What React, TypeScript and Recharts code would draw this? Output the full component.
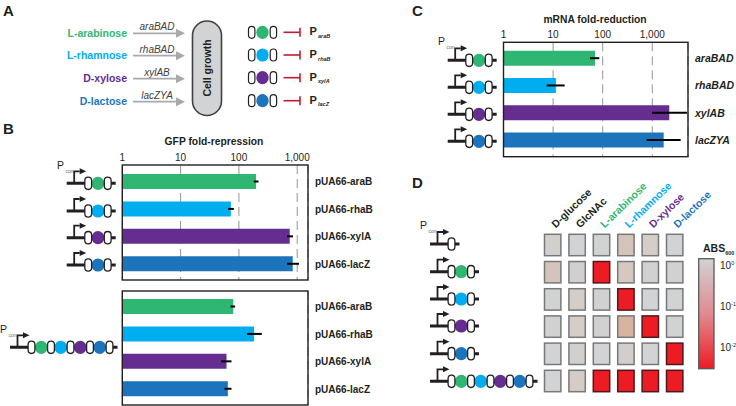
import {
  BarChart,
  Bar,
  Cell,
  ErrorBar,
  XAxis,
  YAxis,
  CartesianGrid,
  ScatterChart,
  Scatter,
} from "recharts";

const GREEN = "#2fb673";
const CYAN = "#00aeef";
const PURPLE = "#662d91";
const BLUE = "#1c75bc";
const INK = "#231f20";
const sugarColors = [GREEN, CYAN, PURPLE, BLUE];

// panel A
const sugarNames = ["L-arabinose", "L-rhamnose", "D-xylose", "D-lactose"];
const operons = ["araBAD", "rhaBAD", "xylAB", "lacZYA"];
const promoterSubs = ["araB", "rhaB", "xylA", "lacZ"];

// panel B
const plasmids = ["pUA66-araB", "pUA66-rhaB", "pUA66-xylA", "pUA66-lacZ"];
const logTicks = [1, 10, 100, 1000];
const gfpSingle = [197, 72.7, 744, 838];
const gfpSingleLow = [180, 65.4, 670, 670];
const gfpSingleHigh = [217, 81.8, 847, 1072];
const gfpMulti = [80, 182, 61.3, 64.6];
const gfpMultiLow = [71.8, 138, 49.6, 56.6];
const gfpMultiHigh = [86, 247, 74.6, 74.6];

// panel C
const mrna = [70, 11.4, 2200, 1698];
const mrnaLow = [55.5, 7.4, 986, 771];
const mrnaHigh = [85.4, 17.1, 5000, 3738];

// panel D
const carbonSources = ["D-glucose", "GlcNAc", ...sugarNames];
const carbonColors = [INK, INK, ...sugarColors];
const abs600 = [
  [0.8, 1.0, 0.95, 0.55, 0.7, 1.0],
  [0.55, 0.85, 0.01, 0.6, 0.9, 0.9],
  [0.95, 0.7, 0.9, 0.01, 1.0, 0.95],
  [0.9, 0.7, 0.9, 0.4, 0.01, 0.95],
  [1.0, 0.8, 1.0, 0.75, 1.0, 0.01],
  [1.0, 0.65, 0.01, 0.01, 0.01, 0.01],
];
const absExponents = ["0", "-1", "-2"];

const rows = (labels: string[], vals: number[], low: number[], high: number[]) =>
  labels.map((name, i) => ({
    name,
    value: vals[i],
    err: [vals[i] - low[i], high[i] - vals[i]],
  }));

const cells = abs600.flatMap((r, row) =>
  r.map((value, col) => ({ row, col, value }))
);

// grey -> tan -> red, same look as the heat cells in the figure
const stops: [number, number[]][] = [
  [0, [209, 211, 212]],
  [0.1, [213, 203, 197]],
  [0.2, [214, 180, 160]],
  [1, [237, 28, 36]],
];
function heatColor(v: number) {
  const t = Math.min(1, -Math.log10(v) / 2);
  for (let i = 1; i < stops.length; i++) {
    if (t <= stops[i][0]) {
      const [t0, a] = stops[i - 1];
      const [t1, b] = stops[i];
      const k = (t - t0) / (t1 - t0);
      const c = a.map((x, j) => Math.round(x + (b[j] - x) * k));
      return `rgb(${c.join(",")})`;
    }
  }
  return "rgb(237,28,36)";
}

function FoldBars({ box, margin, data, max, axisWidth, italic, showTicks, padding }: any) {
  return (
    <div style={{ position: "absolute", ...box }}>
      <BarChart
        width={box.width}
        height={box.height}
        data={data}
        layout="vertical"
        margin={margin}
        barSize={15}
      >
        <CartesianGrid horizontal={false} stroke="#939598" strokeDasharray="9 5" />
        <XAxis
          type="number"
          scale="log"
          orientation="top"
          domain={[1, max]}
          ticks={logTicks}
          interval={0}
          allowDataOverflow
          axisLine={false}
          tickLine={false}
          tickSize={0}
          tickMargin={4}
          height={showTicks ? 20 : 0}
          tick={showTicks ? { fontSize: 10, fill: INK } : false}
          tickFormatter={(v: number) => v.toLocaleString("en-US")}
        />
        <YAxis
          type="category"
          dataKey="name"
          orientation="right"
          width={axisWidth}
          interval={0}
          axisLine={false}
          tickLine={false}
          tickSize={0}
          tickMargin={7}
          padding={padding}
          tick={{
            fontSize: italic ? 10.5 : 10,
            fontWeight: "bold",
            fontStyle: italic ? "italic" : "normal",
            fill: INK,
          }}
        />
        <Bar dataKey="value" isAnimationActive={false}>
          {data.map((d: any, i: number) => (
            <Cell key={d.name} fill={sugarColors[i]} />
          ))}
          <ErrorBar
            dataKey="err"
            direction="x"
            width={0}
            stroke="#000"
            strokeWidth={2}
            isAnimationActive={false}
          />
        </Bar>
      </BarChart>
    </div>
  );
}

function CarbonTick({ x, y, payload }: any) {
  const i = payload.value;
  return (
    <text
      transform={`translate(${x + 3},${y + 1}) rotate(-44)`}
      fontSize={10.5}
      fontWeight="bold"
      fill={carbonColors[i]}
    >
      {carbonSources[i]}
    </text>
  );
}

function HeatCell({ cx, cy, payload }: any) {
  const red = payload.value < 0.05;
  return (
    <rect
      x={cx - 8.2}
      y={cy - 10.7}
      width={16.4}
      height={21.4}
      fill={heatColor(payload.value)}
      stroke={red ? "#4d1a1c" : "#77787b"}
      strokeWidth={1.5}
    />
  );
}

function Heatmap() {
  return (
    <div style={{ position: "absolute", left: 530, top: 170, width: 206, height: 230 }}>
      <ScatterChart
        width={206}
        height={230}
        margin={{ top: 11.4, right: 49.1, bottom: 5.4, left: 10.5 }}
      >
        <XAxis
          type="number"
          dataKey="col"
          orientation="top"
          domain={[-0.5, 5.5]}
          ticks={[0, 1, 2, 3, 4, 5]}
          interval={0}
          height={50}
          axisLine={false}
          tickLine={false}
          tickSize={0}
          tickMargin={4}
          tick={<CarbonTick />}
        />
        <YAxis type="number" dataKey="row" domain={[-0.5, 5.5]} reversed hide />
        <Scatter data={cells} shape={<HeatCell />} isAnimationActive={false} />
      </ScatterChart>
    </div>
  );
}

function Construct({ x, y, parts }: { x: number; y: number; parts: number[] }) {
  const pitch = 9.75;
  const first = x + 21.5;
  const ovals = parts.length + 1;
  const last = parts.length ? first + parts.length * 2 * pitch : first;
  return (
    <g>
      <line x1={x} x2={last + 8} y1={y} y2={y} stroke={INK} strokeWidth={3} />
      <path d={`M${x + 7.5} ${y} V${y - 12} H${x + 13}`} fill="none" stroke={INK} strokeWidth={1.8} />
      <polygon
        points={`${x + 13},${y - 15} ${x + 19.5},${y - 12} ${x + 13},${y - 9}`}
        fill={INK}
      />
      {parts.map((p, i) => (
        <ellipse
          key={i}
          cx={first + pitch + i * 2 * pitch}
          cy={y}
          rx={6.4}
          ry={6.6}
          fill={sugarColors[p]}
        />
      ))}
      {Array.from({ length: ovals }, (_, i) => (
        <rect
          key={i}
          x={first + i * 2 * pitch - 3.4}
          y={y - 6.2}
          width={6.8}
          height={12.4}
          rx={3.4}
          fill="#fff"
          stroke={INK}
          strokeWidth={1.3}
        />
      ))}
    </g>
  );
}

function Pcon({ x, y }: { x: number; y: number }) {
  return (
    <text x={x} y={y} fontSize={10.5} fill={INK}>
      P
      <tspan dy={4} dx={1.5} fontSize={5} fill="#6d6e71">
        con
      </tspan>
    </text>
  );
}

function SchemeA() {
  const arrowY = [33.3, 55.7, 78.7, 101.7];
  const glyphY = [32.3, 55, 77.7, 100.7];
  return (
    <g>
      {sugarNames.map((s, i) => (
        <g key={s}>
          <text
            x={127}
            y={arrowY[i] + 3.6}
            textAnchor="end"
            fontSize={10.5}
            fontWeight="bold"
            fill={sugarColors[i]}
          >
            {s}
          </text>
          <text
            x={157}
            y={arrowY[i] - 3.2}
            textAnchor="middle"
            fontSize={10}
            fontStyle="italic"
            fill="#414042"
          >
            {operons[i]}
          </text>
          <line x1={133} x2={177} y1={arrowY[i]} y2={arrowY[i]} stroke="#a7a9ac" strokeWidth={1.8} />
          <polygon
            points={`${176},${arrowY[i] - 4.5} ${185},${arrowY[i]} ${176},${arrowY[i] + 4.5}`}
            fill="#a7a9ac"
          />
          <ellipse cx={262.5} cy={glyphY[i]} rx={6.2} ry={6.6} fill={sugarColors[i]} />
          <rect x={248.5} y={glyphY[i] - 6} width={6.4} height={12} rx={3.2} fill="#fff" stroke={INK} strokeWidth={1.2} />
          <rect x={270.2} y={glyphY[i] - 6} width={6.4} height={12} rx={3.2} fill="#fff" stroke={INK} strokeWidth={1.2} />
          <line x1={283.5} x2={300} y1={glyphY[i]} y2={glyphY[i]} stroke="#be1e2d" strokeWidth={1.6} />
          <line x1={300} x2={300} y1={glyphY[i] - 4.5} y2={glyphY[i] + 4.5} stroke="#be1e2d" strokeWidth={1.6} />
          <text x={309.5} y={glyphY[i] + 3} fontSize={11} fontWeight="bold" fill={INK}>
            P
          </text>
          <text x={318} y={glyphY[i] + 5.5} fontSize={5.5} fontWeight="bold" fontStyle="italic" fill={INK}>
            {promoterSubs[i]}
          </text>
        </g>
      ))}
      <rect x={192.5} y={21} width={29} height={94.5} rx={14.5} fill="#d1d3d4" stroke="#414042" strokeWidth={1.6} />
      <text
        transform="translate(210.5,68) rotate(-90)"
        textAnchor="middle"
        fontSize={10.5}
        fontWeight="bold"
        fill={INK}
      >
        Cell growth
      </text>
    </g>
  );
}

function Overlay() {
  const singles = [0, 1, 2, 3];
  const bRows = [183.3, 211, 237.7, 265];
  const cRows = [60.3, 87.3, 114.3, 141.3];
  const dRows = [271.7, 299, 326, 353.7];
  const frame = { fill: "none", stroke: INK, strokeWidth: 1.4 };
  return (
    <svg
      width={736}
      height={406}
      style={{ position: "absolute", left: 0, top: 0, pointerEvents: "none" }}
    >
      <defs>
        <linearGradient id="absGrad" x1="0" y1="0" x2="0" y2="1">
          <stop offset="0%" stopColor="#d1d3d4" />
          <stop offset="50%" stopColor="#e08a90" />
          <stop offset="100%" stopColor="#ed1c24" />
        </linearGradient>
      </defs>
      <g fontSize={15} fontWeight="bold" fill={INK}>
        <text x={3} y={16}>A</text>
        <text x={3} y={134}>B</text>
        <text x={412} y={16}>C</text>
        <text x={412} y={188}>D</text>
      </g>

      <SchemeA />

      <text x={214} y={145} textAnchor="middle" fontSize={10.3} fontWeight="bold" fill={INK}>
        GFP fold-repression
      </text>
      <text x={595} y={22.5} textAnchor="middle" fontSize={10.3} fontWeight="bold" fill={INK}>
        mRNA fold-reduction
      </text>

      <rect x={122.3} y={165} width={185.7} height={115} {...frame} />
      <rect x={122.3} y={291} width={185.7} height={114} {...frame} />
      <rect x={503.5} y={42.3} width={184.5} height={114.4} {...frame} />

      <Pcon x={57} y={168.5} />
      {singles.map((s) => (
        <Construct key={s} x={66.7} y={bRows[s]} parts={[s]} />
      ))}
      <Pcon x={0} y={332.5} />
      <Construct x={10} y={347.3} parts={singles} />

      <Pcon x={438} y={44.5} />
      {singles.map((s) => (
        <Construct key={s} x={447.7} y={cRows[s]} parts={[s]} />
      ))}

      <Pcon x={420} y={228.5} />
      <Construct x={430} y={244} parts={[]} />
      {singles.map((s) => (
        <Construct key={s} x={430} y={dRows[s]} parts={[s]} />
      ))}
      <Construct x={430} y={381.3} parts={singles} />

      <rect
        x={698.7}
        y={258.7}
        width={15.3}
        height={110}
        fill="url(#absGrad)"
        stroke="#58595b"
        strokeWidth={1.3}
      />
      <text x={703} y={252} fontSize={10.5} fontWeight="bold" fill={INK}>
        ABS
        <tspan dy={2.5} fontSize={5.5}>600</tspan>
      </text>
      {absExponents.map((e, i) => (
        <text key={e} x={720} y={268.5 + i * 41} fontSize={10} fill={INK}>
          10
          <tspan dy={-4} fontSize={5.5}>{e}</tspan>
        </text>
      ))}
    </svg>
  );
}

export default function App() {
  return (
    <div
      style={{
        position: "absolute",
        left: 0,
        top: 0,
        width: 736,
        height: 406,
        background: "#fff",
        overflow: "hidden",
        fontFamily: "'Liberation Sans', Arial, sans-serif",
      }}
    >
      <FoldBars
        box={{ left: 90, top: 135, width: 290, height: 150 }}
        margin={{ top: 10, right: 10, bottom: 5, left: 32.3 }}
        data={rows(plasmids, gfpSingle, gfpSingleLow, gfpSingleHigh)}
        max={1531}
        axisWidth={62}
        showTicks
        padding={{ top: 3, bottom: 2.3 }}
      />
      <FoldBars
        box={{ left: 90, top: 286, width: 290, height: 120 }}
        margin={{ top: 5, right: 10, bottom: 1, left: 32.3 }}
        data={rows(plasmids, gfpMulti, gfpMultiLow, gfpMultiHigh)}
        max={1531}
        axisWidth={62}
        padding={{ top: 2, bottom: 2.3 }}
      />
      <FoldBars
        box={{ left: 460, top: 10, width: 276, height: 155 }}
        margin={{ top: 12.3, right: 0, bottom: 8.3, left: 43.5 }}
        data={rows(operons, mrna, mrnaLow, mrnaHigh)}
        max={5250}
        axisWidth={48}
        italic
        showTicks
        padding={{ top: 2.4, bottom: 3 }}
      />
      <Heatmap />
      <Overlay />
    </div>
  );
}
